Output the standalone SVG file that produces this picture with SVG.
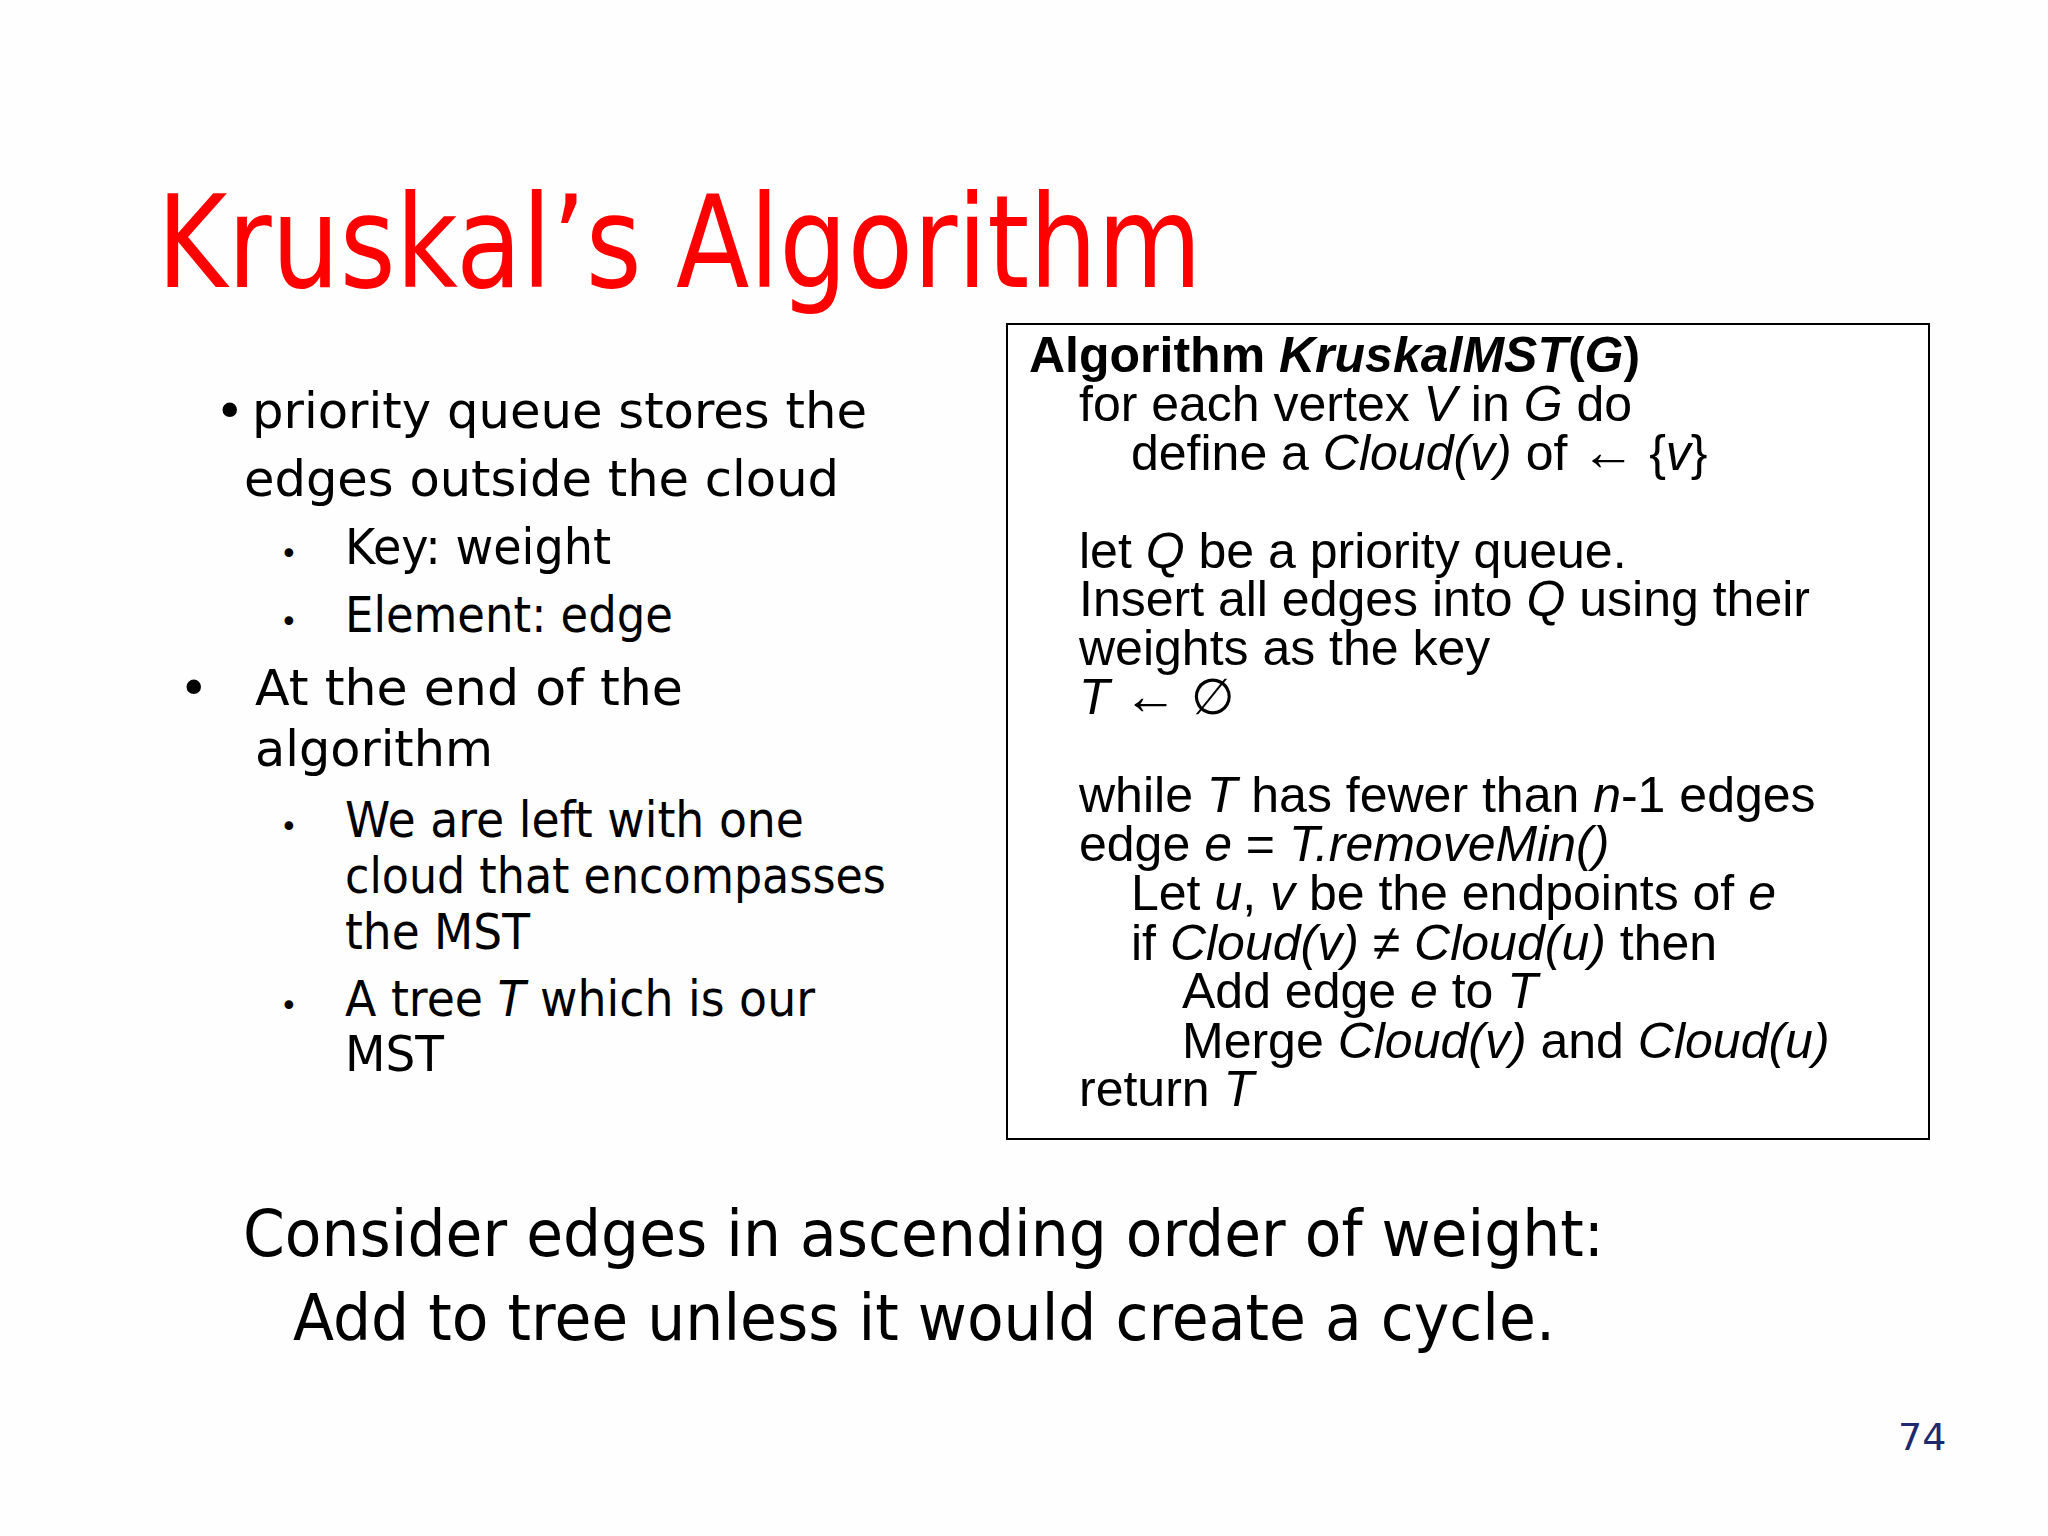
<svg xmlns="http://www.w3.org/2000/svg" width="2048" height="1536" viewBox="0 0 2048 1536">
<style>
.t{font-family:"DejaVu Sans","Liberation Sans",sans-serif;fill:#000}
.c{font-family:"Liberation Sans",Arial,sans-serif;font-size:50px;fill:#000}
.l{font-size:50px}
.s{font-size:30px}
.a{font-weight:bold;font-size:54px}
</style>
<rect width="2048" height="1536" fill="#fefefe"/>
<g id="title"><text class="t" x="157" y="287" font-size="128" style="fill:#f00" textLength="1045" lengthAdjust="spacingAndGlyphs">Kruskal’s Algorithm</text></g>
<g id="left">
<text class="t l" x="215" y="428">•</text>
<text class="t l" x="252" y="428" textLength="615" lengthAdjust="spacingAndGlyphs">priority queue stores the</text>
<text class="t l" x="244" y="496" textLength="595" lengthAdjust="spacingAndGlyphs">edges outside the cloud</text>
<text class="t s" x="280" y="564">•</text>
<text class="t l" x="345" y="564" textLength="266" lengthAdjust="spacingAndGlyphs">Key: weight</text>
<text class="t s" x="280" y="632">•</text>
<text class="t l" x="345" y="632" textLength="328" lengthAdjust="spacingAndGlyphs">Element: edge</text>
<text class="t l" x="179" y="705">•</text>
<text class="t l" x="255" y="705" textLength="428" lengthAdjust="spacingAndGlyphs">At the end of the</text>
<text class="t l" x="255" y="766" textLength="238" lengthAdjust="spacingAndGlyphs">algorithm</text>
<text class="t s" x="280" y="837">•</text>
<text class="t l" x="345" y="837" textLength="459" lengthAdjust="spacingAndGlyphs">We are left with one</text>
<text class="t l" x="345" y="893" textLength="541" lengthAdjust="spacingAndGlyphs">cloud that encompasses</text>
<text class="t l" x="345" y="949" textLength="185" lengthAdjust="spacingAndGlyphs">the MST</text>
<text class="t s" x="280" y="1016">•</text>
<text class="t l" x="345" y="1016" textLength="470" lengthAdjust="spacingAndGlyphs">A tree <tspan font-style="italic">T</tspan> which is our</text>
<text class="t l" x="345" y="1071" textLength="99" lengthAdjust="spacingAndGlyphs">MST</text>
</g>
<g id="algo">
<rect x="1007" y="324" width="922" height="815" fill="#fff" stroke="#000" stroke-width="2"/>
<text class="c" x="1029" y="372" font-weight="bold">Algorithm <tspan font-style="italic">KruskalMST</tspan>(<tspan font-style="italic">G</tspan>)</text>
<text class="c" x="1079" y="421">for each vertex <tspan font-style="italic">V</tspan> in <tspan font-style="italic">G</tspan> do</text>
<text class="c" x="1131" y="470">define a <tspan font-style="italic">Cloud(v)</tspan> of <tspan class="a">←</tspan> {<tspan font-style="italic">v</tspan>}</text>
<text class="c" x="1079" y="568">let <tspan font-style="italic">Q</tspan> be a priority queue.</text>
<text class="c" x="1079" y="616">Insert all edges into <tspan font-style="italic">Q</tspan> using their</text>
<text class="c" x="1079" y="665">weights as the key</text>
<text class="c" x="1079" y="714"><tspan font-style="italic">T</tspan> <tspan class="a">←</tspan> ∅</text>
<text class="c" x="1079" y="812">while <tspan font-style="italic">T</tspan> has fewer than <tspan font-style="italic">n</tspan>-1 edges</text>
<text class="c" x="1079" y="861">edge <tspan font-style="italic">e</tspan> = <tspan font-style="italic">T.removeMin()</tspan></text>
<text class="c" x="1131" y="910">Let <tspan font-style="italic">u</tspan>, <tspan font-style="italic">v</tspan> be the endpoints of <tspan font-style="italic">e</tspan></text>
<text class="c" x="1131" y="960">if <tspan font-style="italic">Cloud(v)</tspan> ≠ <tspan font-style="italic">Cloud(u)</tspan> then</text>
<text class="c" x="1182" y="1008">Add edge <tspan font-style="italic">e</tspan> to <tspan font-style="italic">T</tspan></text>
<text class="c" x="1182" y="1058">Merge <tspan font-style="italic">Cloud(v)</tspan> and <tspan font-style="italic">Cloud(u)</tspan></text>
<text class="c" x="1079" y="1106">return <tspan font-style="italic">T</tspan></text>
</g>
<g id="bottom">
<text class="t" x="243" y="1256" font-size="64" textLength="1361" lengthAdjust="spacingAndGlyphs">Consider edges in ascending order of weight:</text>
<text class="t" x="293" y="1340" font-size="64" textLength="1262" lengthAdjust="spacingAndGlyphs">Add to tree unless it would create a cycle.</text>
<text class="t" x="1898" y="1450" font-size="38" style="fill:#1f2a6e">74</text>
</g>
</svg>
